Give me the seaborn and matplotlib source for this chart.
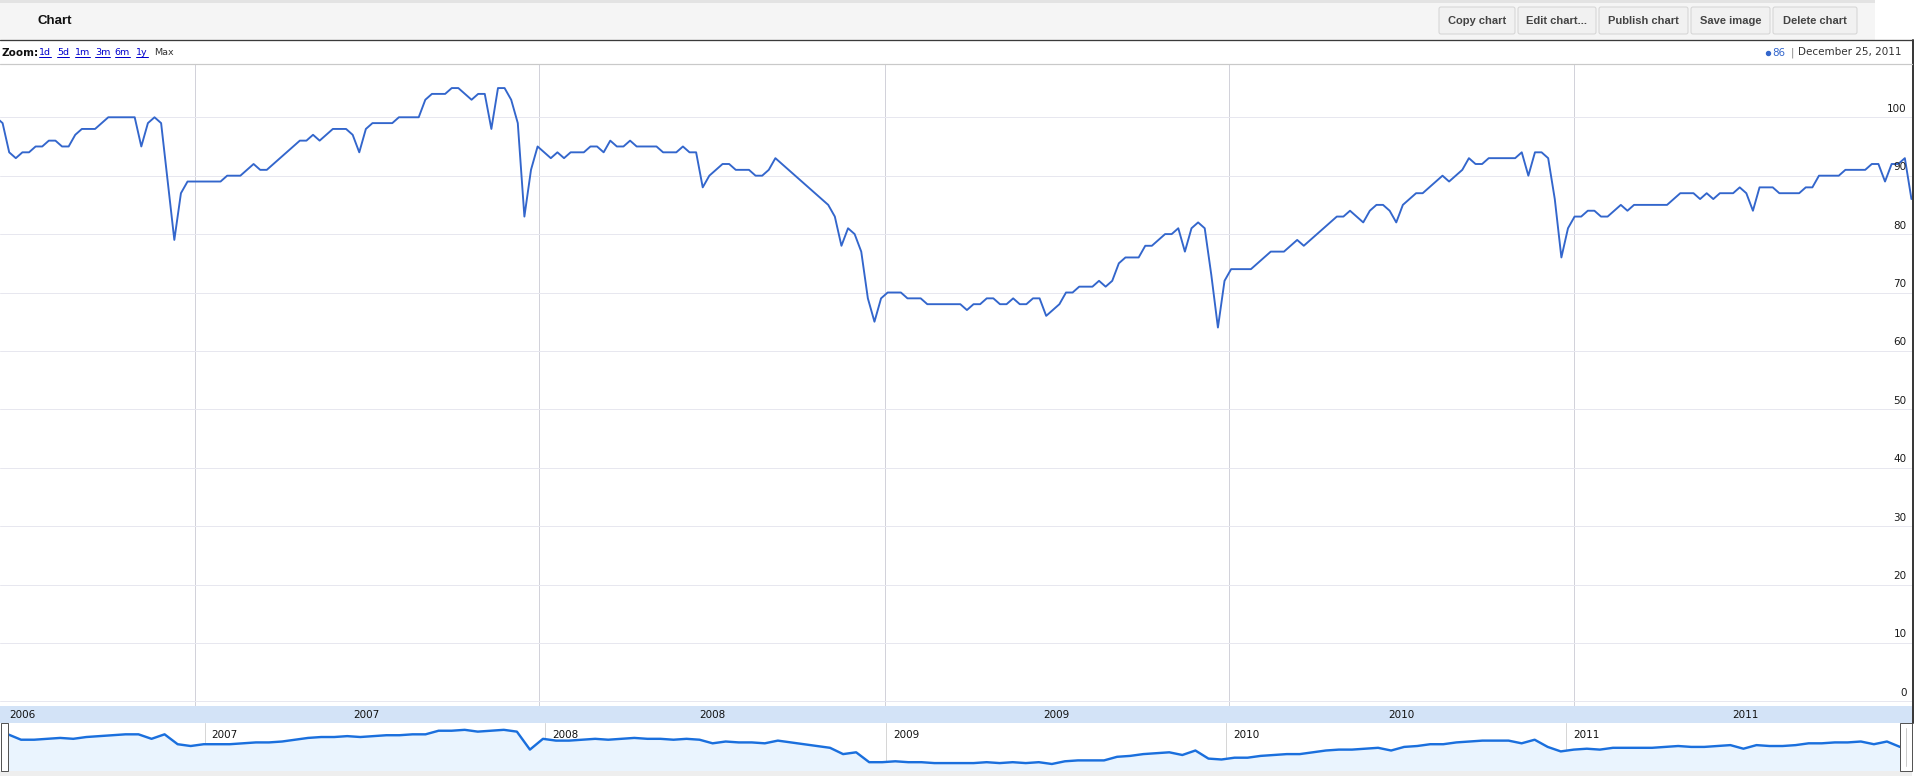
import matplotlib
matplotlib.use('Agg')
import matplotlib.pyplot as plt
import matplotlib.dates as mdates
from matplotlib.patches import Rectangle, FancyBboxPatch
from matplotlib.lines import Line2D
import numpy as np
import pandas as pd
import seaborn as sns

# ---------------- data (weekly values) ----------------
first_week = '2006-06-04'
w2006 = [100, 99, 94, 93, 94, 94, 95, 95, 96, 96, 95,
         95, 97, 98, 98, 98, 99, 100, 100, 100, 100,
         100, 95, 99, 100, 99, 89, 79, 87, 89, 89]
w2007 = [89, 89, 89, 89, 90, 90, 90, 91, 92, 91,
         91, 92, 93, 94, 95, 96, 96, 97, 96, 97,
         98, 98, 98, 97, 94, 98, 99, 99, 99, 99,
         100, 100, 100, 100, 103, 104, 104, 104, 105, 105,
         104, 103, 104, 104, 98, 105, 105, 103, 99, 83,
         91, 95]
w2008 = [94, 93, 94, 93, 94, 94, 94, 95,
         95, 94, 96, 95, 95, 96, 95, 95, 95, 95,
         94, 94, 94, 95, 94, 94, 88, 90, 91, 92,
         92, 91, 91, 91, 90, 90, 91, 93, 92, 91,
         90, 89, 88, 87, 86, 85, 83, 78, 81, 80,
         77, 69, 65, 69]
w2009 = [70, 70, 70, 69, 69, 69,
         68, 68, 68, 68, 68, 68, 67, 68, 68, 69,
         69, 68, 68, 69, 68, 68, 69, 69, 66, 67,
         68, 70, 70, 71, 71, 71, 72, 71, 72, 75,
         76, 76, 76, 78, 78, 79, 80, 80, 81, 77,
         81, 82, 81, 73, 64, 72]
w2010 = [74, 74, 74, 74,
         75, 76, 77, 77, 77, 78, 79, 78, 79, 80,
         81, 82, 83, 83, 84, 83, 82, 84, 85, 85,
         84, 82, 85, 86, 87, 87, 88, 89, 90, 89,
         90, 91, 93, 92, 92, 93, 93, 93, 93, 93,
         94, 90, 94, 94, 93, 86, 76, 81]
w2011 = [83, 83,
         84, 84, 83, 83, 84, 85, 84, 85, 85, 85,
         85, 85, 85, 86, 87, 87, 87, 86, 87, 86,
         87, 87, 87, 88, 87, 84, 88, 88, 88, 87,
         87, 87, 87, 88, 88, 90, 90, 90, 90, 91,
         91, 91, 91, 92, 92, 89, 92, 92, 93, 86]

y_ticks = [0, 10, 20, 30, 40, 50, 60, 70, 80, 90, 100]
band_years = ['2006', '2007', '2008', '2009', '2010', '2011']
nav_years = ['2007', '2008', '2009', '2010', '2011']
zoom_links = ['1d', '5d', '1m', '3m', '6m', '1y']
buttons = ['Copy chart', 'Edit chart...', 'Publish chart', 'Save image', 'Delete chart']

values = w2006 + w2007 + w2008 + w2009 + w2010 + w2011
dates = pd.date_range(first_week, periods=len(values), freq='7D')
df = pd.DataFrame({'date': dates, 'value': values})
nav = df.iloc[::2]

# ---------------- figure ----------------
sns.set_style('white')
plt.rcParams['font.family'] = ['DejaVu Sans']

W, H = 1915, 776
fig = plt.figure(figsize=(W / 100, H / 100), dpi=100)
fig.patch.set_facecolor('white')
PT = 0.72  # points per pixel


def add_ax(x0, y0, x1, y1, **kw):
    return fig.add_axes([x0 / W, 1 - y1 / H, (x1 - x0) / W, (y1 - y0) / H], **kw)


x_left = pd.Timestamp('2006-06-08 06:00')
x_right = pd.Timestamp('2011-12-25 14:00')

# ---- main plot ----
ax = add_ax(0, 64, 1912, 706)
ax.set_facecolor('white')
sns.lineplot(data=df, x='date', y='value', ax=ax, color='#3366cc',
             linewidth=1.9 * PT, zorder=3, legend=False)
ax.set_xlim(x_left, x_right)
ax.set_ylim(-0.79, 109.12)
ax.set_yticks(y_ticks)
ax.tick_params(axis='y', length=0, labelleft=False)
ax.xaxis.set_major_locator(mdates.YearLocator())
ax.xaxis.set_minor_locator(mdates.MonthLocator(bymonth=[1, 4, 7, 10]))
ax.tick_params(axis='x', which='both', direction='in', labelbottom=False)
ax.tick_params(axis='x', which='major', length=4 * PT, width=1 * PT, color='#222222')
ax.tick_params(axis='x', which='minor', length=4 * PT, width=1 * PT, color='#999999')
ax.set_axisbelow(True)
ax.grid(axis='y', color='#e7e7ef', linewidth=1 * PT)
ax.grid(axis='x', which='major', color='#d2d2da', linewidth=1 * PT)
ax.set_xlabel('')
ax.set_ylabel('')
for s in ax.spines.values():
    s.set_visible(False)
for t in y_ticks:
    ax.annotate(str(t), xy=(1, t), xycoords=('axes fraction', 'data'),
                xytext=(-5.5, 8.5), textcoords='offset pixels',
                ha='right', va='center', fontsize=7.5, color='#1a1a1a', zorder=5)

# ---- year band ----
axb = add_ax(0, 706, 1912, 723)
axb.set_facecolor('#d3e3f7')
axb.set_xlim(x_left, x_right)
axb.set_ylim(0, 1)
axb.set_xticks([])
axb.set_yticks([])
for s in axb.spines.values():
    s.set_visible(False)
for y in band_years:
    mid = pd.Timestamp(f'{y}-07-02')
    axb.text(mid, 0.5, y, ha='center', va='center', fontsize=7.5, color='#111111')

# ---- navigator ----
axn = add_ax(8, 723, 1900, 771)
axn.set_facecolor('white')
axn.fill_between(nav['date'], nav['value'], 0, color='#eaf4fe', zorder=1, linewidth=0)
sns.lineplot(data=nav, x='date', y='value', ax=axn, color='#1a6fdd',
             linewidth=2.4 * PT, zorder=3, legend=False)
axn.set_xlim(dates[0], dates[-1])
axn.set_ylim(59.2, 112.6)
axn.set_yticks([])
axn.xaxis.set_major_locator(mdates.YearLocator())
axn.xaxis.set_minor_locator(mdates.MonthLocator(bymonth=[1, 4, 7, 10]))
axn.tick_params(axis='x', which='both', direction='in', labelbottom=False)
axn.tick_params(axis='x', which='major', length=4 * PT, width=1 * PT, color='#111111')
axn.tick_params(axis='x', which='minor', length=4 * PT, width=1 * PT, color='#aaaaaa')
axn.set_axisbelow(True)
axn.grid(axis='x', which='major', color='#d6d6d6', linewidth=1 * PT, zorder=2)
axn.set_xlabel('')
axn.set_ylabel('')
for s in axn.spines.values():
    s.set_visible(False)
for y in nav_years:
    axn.annotate(y, xy=(pd.Timestamp(f'{y}-01-01'), 1), xycoords=('data', 'axes fraction'),
                 xytext=(7, -12), textcoords='offset pixels', ha='left', va='center',
                 fontsize=7.5, color='#111111', zorder=5)

# ---- decoration overlay (toolbar, zoom row, legend, borders) ----
deco = fig.add_axes([0, 0, 1, 1], zorder=10)
deco.set_xlim(0, W)
deco.set_ylim(H, 0)
deco.axis('off')

deco.add_patch(Rectangle((0, 0), 1875, 3, fc='#e3e3e3', ec='none'))
deco.add_patch(Rectangle((0, 3), 1875, 36.5, fc='#f5f5f5', ec='none'))
deco.add_line(Line2D([0, 1913.5], [39.8, 39.8], color='#3a3a3a', lw=1.3 * PT))
deco.add_line(Line2D([1912.8, 1912.8], [39.8, 723], color='#3a3a3a', lw=2 * PT))
deco.add_line(Line2D([0, 1912], [64, 64], color='#c9c9c9', lw=1.2 * PT))

deco.text(38, 21, 'Chart', fontsize=9.5, fontweight='bold', family='Liberation Sans',
          color='#111111', ha='left', va='center')

btn_x = [(1439, 1515), (1518, 1596), (1599, 1688), (1691, 1770), (1773, 1857)]
for lab, (bx0, bx1) in zip(buttons, btn_x):
    deco.add_patch(FancyBboxPatch((bx0, 7), bx1 - bx0, 27,
                                  boxstyle='round,pad=0,rounding_size=2',
                                  fc='#f1f1f1', ec='#d4d4d4', lw=1 * PT))
    deco.text((bx0 + bx1) / 2, 21, lab, fontsize=8, fontweight='bold',
              family='Liberation Sans', color='#444444', ha='center', va='center')

deco.text(1, 52.5, 'Zoom:', fontsize=7.5, fontweight='bold', color='#111111',
          ha='left', va='center')
link_x = [39, 57, 75, 95, 114.5, 136]
link_texts = []
for lab, lx in zip(zoom_links, link_x):
    link_texts.append(deco.text(lx, 52.5, lab, fontsize=6.8, color='#0000cc',
                                ha='left', va='center'))
deco.text(154.5, 52.5, 'Max', fontsize=6.8, color='#333333', ha='left', va='center')

last_val = values[-1]
last_date = dates[-1].strftime('%B %d, %Y')
deco.plot([1768], [52.5], marker='o', ms=4 * PT, color='#3366cc', ls='none')
deco.text(1785, 52.5, str(last_val), fontsize=7.4, color='#3366cc', ha='right', va='center')
deco.text(1792, 52.5, '|', fontsize=7.4, color='#888888', ha='center', va='center')
deco.text(1902, 52.5, last_date, fontsize=7.5, color='#333333', ha='right', va='center')

# navigator handles and bottom strip
deco.add_patch(Rectangle((0, 771), 1912, 5, fc='#eeeeee', ec='none'))
deco.add_patch(Rectangle((0.5, 722.5), 7.5, 48.5, fc='white', ec='#555555', lw=1 * PT))
deco.add_patch(Rectangle((1900, 722.5), 12.5, 48.5, fc='white', ec='#555555', lw=1 * PT))
deco.add_line(Line2D([1906, 1906], [728, 766], color='#cccccc', lw=1 * PT))

# underline the zoom links
fig.canvas.draw()
renderer = fig.canvas.get_renderer()
inv = deco.transData.inverted()
for t in link_texts:
    bb = t.get_window_extent(renderer)
    (ux0, _), (ux1, _) = inv.transform([(bb.x0, bb.y0), (bb.x1, bb.y0)])
    deco.add_line(Line2D([ux0, ux1], [57.3, 57.3], color='#0000cc', lw=1 * PT))

fig.savefig('out.png', dpi=100)
